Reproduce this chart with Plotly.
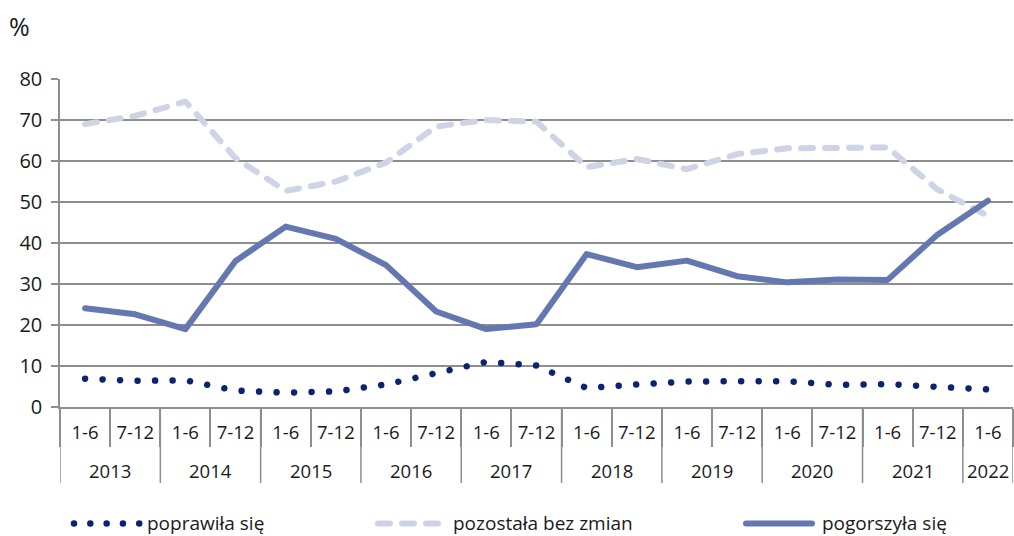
import plotly.graph_objects as go

years = ["2013", "2013", "2014", "2014", "2015", "2015", "2016", "2016", "2017", "2017",
         "2018", "2018", "2019", "2019", "2020", "2020", "2021", "2021", "2022"]
halves = ["1-6", "7-12"] * 9 + ["1-6"]

poprawila = [6.9, 6.4, 6.5, 4.0, 3.5, 3.8, 5.5, 8.3, 11.0, 10.1,
             4.6, 5.5, 6.2, 6.3, 6.3, 5.4, 5.6, 4.9, 4.3]
pozostala = [69.0, 71.0, 74.5, 60.7, 52.7, 55.0, 59.6, 68.4, 70.0, 69.6,
             58.5, 60.5, 58.0, 61.7, 63.1, 63.3, 63.3, 53.0, 46.6]
pogorszyla = [24.1, 22.6, 19.0, 35.6, 44.0, 41.0, 34.6, 23.3, 19.0, 20.2,
              37.3, 34.1, 35.7, 31.9, 30.4, 31.1, 31.0, 42.1, 50.3]

series_names = ["poprawiła się", "pozostała bez zmian", "pogorszyła się"]

C_DOT = "rgb(11, 36, 112)"
C_DASH = "rgb(206, 211, 230)"
C_SOLID = "rgb(101, 119, 177)"
GRID = "rgb(142, 142, 142)"
TXT = "rgb(26, 26, 26)"
FONT = "Open Sans"

W, H = 1014, 536
ML, MR, MT, MB = 60, 1, 79, 129
PW, PH = W - ML - MR, H - MT - MB


def px_x(p):
    return (p - ML) / PW


def px_y(p):
    return (H - MB - p) / PH


idx = list(range(len(halves)))

fig = go.Figure()
fig.add_trace(go.Scatter(x=idx, y=poprawila, mode="lines", name=series_names[0],
                         line=dict(color=C_DOT, width=6.5, dash="5px,12px")))
fig.add_trace(go.Scatter(x=idx, y=pozostala, mode="lines", name=series_names[1],
                         line=dict(color=C_DASH, width=6, dash="12px,12px")))
fig.add_trace(go.Scatter(x=idx, y=pogorszyla, mode="lines", name=series_names[2],
                         line=dict(color=C_SOLID, width=6)))

# year groups: labels and dividers
groups = []
for i, yr in enumerate(years):
    if not groups or groups[-1][0] != yr:
        groups.append([yr, i, i])
    else:
        groups[-1][2] = i

shapes = []
annotations = []
div_bottom = px_y(483)
for yr, a, b in groups:
    annotations.append(dict(text=yr, x=(a + b) / 2, xref="x", y=px_y(470), yref="paper",
                            xanchor="center", yanchor="middle", showarrow=False,
                            font=dict(size=18.5, color=TXT, family=FONT)))
    shapes.append(dict(type="line", xref="x", yref="paper", x0=a - 0.5, x1=a - 0.5,
                       y0=0, y1=div_bottom, line=dict(color=GRID, width=1.5)))
shapes.append(dict(type="line", xref="x", yref="paper", x0=groups[-1][2] + 0.5, x1=groups[-1][2] + 0.5,
                   y0=0, y1=div_bottom, line=dict(color=GRID, width=1.5)))

# manual legend
leg_y = 522.5
LEG_FONT = dict(size=19, color=TXT, family=FONT)
shapes += [
    dict(type="line", xref="paper", yref="paper", x0=px_x(74), x1=px_x(140), y0=px_y(leg_y + 1), y1=px_y(leg_y + 1),
         line=dict(color=C_DOT, width=6.5, dash="5px,12px")),
    dict(type="line", xref="paper", yref="paper", x0=px_x(378), x1=px_x(438), y0=px_y(leg_y + 1), y1=px_y(leg_y + 1),
         line=dict(color=C_DASH, width=6, dash="12px,12px")),
    dict(type="line", xref="paper", yref="paper", x0=px_x(746), x1=px_x(812), y0=px_y(leg_y + 1), y1=px_y(leg_y + 1),
         line=dict(color=C_SOLID, width=6)),
]
annotations += [
    dict(text=series_names[0], x=px_x(145), y=px_y(leg_y), xref="paper", yref="paper",
         xanchor="left", yanchor="middle", showarrow=False, font=LEG_FONT),
    dict(text=series_names[1], x=px_x(451), y=px_y(leg_y), xref="paper", yref="paper",
         xanchor="left", yanchor="middle", showarrow=False, font=LEG_FONT),
    dict(text=series_names[2], x=px_x(820), y=px_y(leg_y), xref="paper", yref="paper",
         xanchor="left", yanchor="middle", showarrow=False, font=LEG_FONT),
    dict(text="%", x=px_x(7), y=px_y(26), xref="paper", yref="paper",
         xanchor="left", yanchor="middle", showarrow=False, font=dict(size=25, color=TXT, family=FONT)),
]

fig.update_layout(
    width=W, height=H,
    margin=dict(l=ML, r=MR, t=MT, b=MB, pad=0),
    paper_bgcolor="white", plot_bgcolor="white",
    showlegend=False,
    font=dict(family=FONT, size=18, color=TXT),
    shapes=shapes, annotations=annotations,
    xaxis=dict(range=[-0.5, len(idx) - 0.5], tickmode="array", tickvals=idx, ticktext=halves,
               ticks="", showline=True, linecolor=GRID, linewidth=1.5, showgrid=False, zeroline=False,
               ticklabelstandoff=8,
               minor=dict(tickmode="array", tickvals=[i - 0.5 for i in range(len(idx) + 1)],
                          ticks="outside", ticklen=38, tickcolor=GRID, tickwidth=1.5, showgrid=False),
               tickfont=dict(size=18.5, color=TXT, family=FONT)),
    yaxis=dict(range=[0, 80], dtick=10, tick0=0, showgrid=True, gridcolor=GRID, gridwidth=1.5,
               ticks="outside", ticklen=7, tickcolor=GRID, tickwidth=1.5,
               showline=True, linecolor=GRID, linewidth=1.5, zeroline=False,
               ticklabelstandoff=5, tickfont=dict(size=20, color=TXT, family=FONT)),
)

post = """
document.body.style.margin = '0';
document.body.style.padding = '0';
var gd = document.getElementById('{plot_id}');
function fixLines(){
  gd.querySelectorAll('path').forEach(function(p){
    var s = p.style.stroke;
    var inShape = !!p.closest('.shapelayer');
    if (s === 'rgb(11, 36, 112)') {
      p.style.strokeLinecap = 'round';
      p.style.strokeDasharray = inShape ? '0.01px,16.3px' : '0.01px,17.5px';
    } else if (s === 'rgb(206, 211, 230)') {
      p.style.strokeLinecap = 'round';
      p.style.strokeLinejoin = 'round';
      p.style.strokeDasharray = '12px,12px';
    } else if (s === 'rgb(101, 119, 177)') {
      p.style.strokeLinecap = 'round';
      p.style.strokeLinejoin = 'round';
    }
  });
}
fixLines();
gd.on('plotly_afterplot', fixLines);
"""

fig.write_html("out.html", post_script=post, config={"displayModeBar": False})
